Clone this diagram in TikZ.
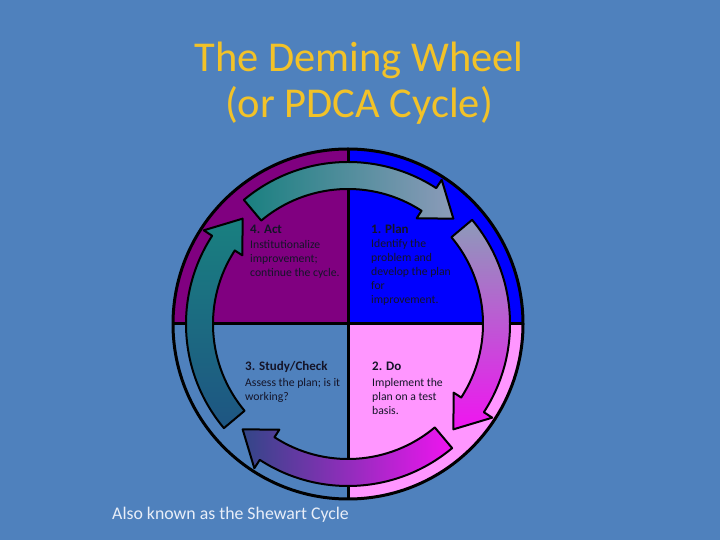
\documentclass[tikz,border=0pt]{standalone}
\usepackage{fontspec}
\setmainfont{Carlito}
\definecolor{bg}{RGB}{79,129,189}
\definecolor{qpurple}{RGB}{128,0,128}
\definecolor{qblue}{RGB}{0,0,255}
\definecolor{qpink}{RGB}{255,150,255}
\definecolor{ateal}{RGB}{25,128,128}
\definecolor{agrey}{RGB}{140,155,185}
\definecolor{alav}{RGB}{200,120,215}
\definecolor{amag}{RGB}{240,20,240}
\definecolor{apurp}{RGB}{175,55,195}
\definecolor{adark}{RGB}{50,70,135}
\definecolor{adark2}{RGB}{30,85,130}
\definecolor{titlecol}{RGB}{242,194,40}
\definecolor{capcol}{RGB}{232,238,248}
\definecolor{txt}{RGB}{20,20,40}
\newcommand\wheelarrow[1]{(#1:162pt) arc[start angle=#1, end angle=#1-73, radius=162pt] -- (#1-73:172pt) -- (#1-85:149pt) -- (#1-73:126pt) -- (#1-73:135pt) arc[start angle=#1-73, end angle=#1, radius=135pt] -- cycle}
\tikzset{
  arrowline/.style={draw=black, line width=2pt, line join=round},
  head/.style={anchor=base west, inner sep=0pt, text=txt, font=\fontsize{13}{15}\selectfont\bfseries},
  body/.style={anchor=base west, inner sep=0pt, text=txt, font=\fontsize{11.7}{14}\selectfont},
  title/.style={anchor=base, inner sep=0pt, text=titlecol, font=\fontsize{42.5}{50}\selectfont}
}
\begin{document}
\begin{tikzpicture}[x=1pt,y=1pt]
\fill[bg] (0,0) rectangle (720,540);
\useasboundingbox (0,0) rectangle (720,540);
\coordinate (C) at (348,216);
\begin{scope}[shift={(C)}]
  \fill[qpurple] (0,0) -- (90:175pt) arc[start angle=90, end angle=180, radius=175pt] -- cycle;
  \fill[qblue] (0,0) -- (0:175pt) arc[start angle=0, end angle=90, radius=175pt] -- cycle;
  \fill[qpink] (0,0) -- (270:175pt) arc[start angle=270, end angle=360, radius=175pt] -- cycle;
  \draw[line width=3pt] (90:175pt) -- (270:175pt);
  \draw[line width=3pt] (180:175pt) -- (0:175pt);
  \draw[line width=3pt] (0,0) circle[radius=175pt];
  \shadedraw[arrowline, left color=ateal, right color=agrey] \wheelarrow{130};
  \shadedraw[arrowline, top color=agrey, middle color=alav, bottom color=amag] \wheelarrow{40};
  \shadedraw[arrowline, right color=amag, middle color=apurp, left color=adark] \wheelarrow{-50};
  \shadedraw[arrowline, bottom color=adark2, top color=ateal] \wheelarrow{220};
\end{scope}
% titles
\node[title] (t1) at (359,468) {The Deming Wheel};
\node[title] (t2) at (359,422) {(or PDCA Cycle)};
% 4. Act
\node[head] (acth) at (250,306) {4. Act};
\node[body] (act1) at (250,291) {Institutionalize};
\node[body] (act2) at (250,277) {improvement;};
\node[body] (act3) at (250,263) {continue the cycle.};
% 1. Plan
\node[head] (planh) at (371,306) {1. Plan};
\node[body] (plan1) at (371,292) {Identify the};
\node[body] (plan2) at (371,278) {problem and};
\node[body] (plan3) at (371,264) {develop the plan};
\node[body] (plan4) at (371,250) {for};
\node[body] (plan5) at (371,236) {improvement.};
% 3. Study/Check
\node[head] (sth) at (245,169) {3. Study/Check};
\node[body] (st1) at (245,153) {Assess the plan; is it};
\node[body] (st2) at (245,139) {working?};
% 2. Do
\node[head] (doh) at (372,169) {2. Do};
\node[body] (do1) at (372,153) {Implement the};
\node[body] (do2) at (372,139) {plan on a test};
\node[body] (do3) at (372,125) {basis.};
% caption
\node[anchor=base west, inner sep=0pt, text=capcol, font=\fontsize{17.8}{21}\selectfont] (cap) at (112,20) {Also known as the Shewart Cycle};
\end{tikzpicture}
\end{document}
